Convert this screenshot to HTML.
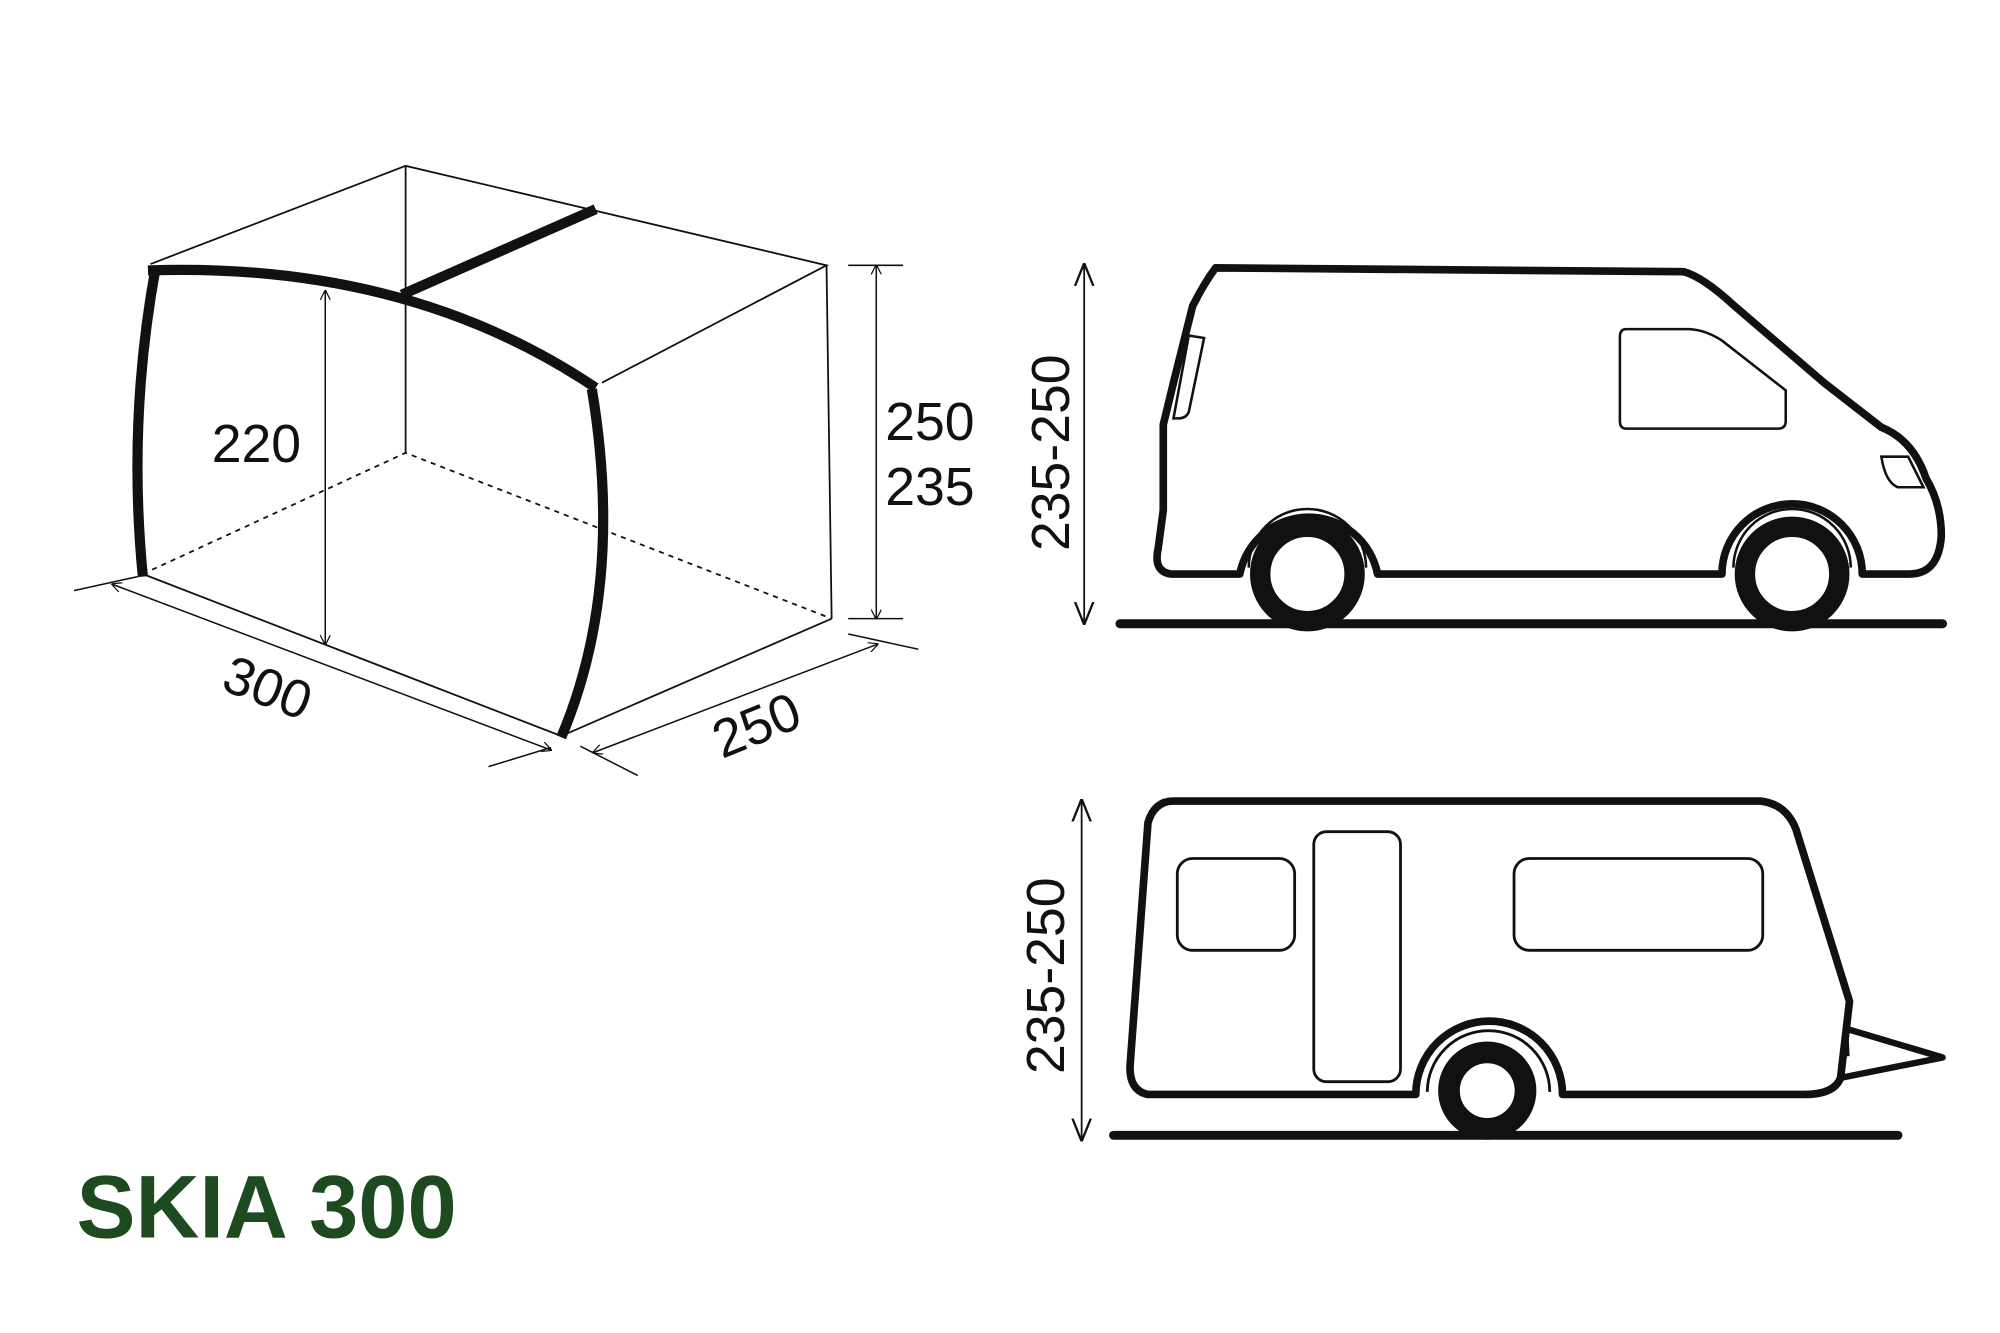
<!DOCTYPE html>
<html><head><meta charset="utf-8"><style>
html,body{margin:0;padding:0;background:#fff;}
svg{display:block;}
text{font-family:"Liberation Sans",sans-serif;fill:#111;}
</style></head><body>
<svg width="2000" height="1333" viewBox="0 0 1568 1045" preserveAspectRatio="none" xmlns="http://www.w3.org/2000/svg">
<defs>
<marker id="ar" viewBox="0 0 10 10" refX="9" refY="5" markerWidth="8" markerHeight="8" orient="auto-start-reverse" markerUnits="userSpaceOnUse">
<path d="M0,0 L10,5 L0,10" fill="none" stroke="#111" stroke-width="1.2"/></marker>
<marker id="ar2" viewBox="0 0 10 10" refX="9" refY="5" markerWidth="18" markerHeight="18" orient="auto-start-reverse" markerUnits="userSpaceOnUse">
<path d="M0,1 L10,5 L0,9" fill="none" stroke="#111" stroke-width="1"/></marker>
</defs>
<!-- tent -->
<g stroke="#111" fill="none" stroke-width="1.4">
<path d="M118,207 L318,130 L648,208 L472,300"/>
<path d="M318,130 L318,355"/>
<path d="M648,208 L652,485"/>
<path d="M112,450 L440,577 L652,485"/>
<path d="M112,450 L318,355 L652,485" stroke-dasharray="4,4"/>
</g>
<g stroke="#111" fill="none" stroke-width="8" stroke-linecap="butt">
<path d="M122,210 Q100,330 112,452"/>
<path d="M116,212 Q320,205 467,304"/>
<path d="M464,305 Q490,460 440,578"/>
<path d="M315,231 L467,164"/>
</g>
<g stroke="#111" fill="none" stroke-width="1.2">
<path d="M255,228 L255,505" marker-start="url(#ar)" marker-end="url(#ar)"/>
<path d="M88,458 L432,588" marker-start="url(#ar)" marker-end="url(#ar)"/>
<path d="M58,463 L108,452 M383,601 L432,586"/>
<path d="M465,590 L688,505" marker-start="url(#ar)" marker-end="url(#ar)"/>
<path d="M455,585 L500,608 M665,497 L720,509"/>
<path d="M687,208 L687,485" marker-start="url(#ar)" marker-end="url(#ar)"/>
<path d="M665,208 L708,208 M665,485 L708,485"/>
</g>
<text x="166" y="362" font-size="42">220</text>
<text x="0" y="0" font-size="42" transform="translate(172,540) rotate(21)">300</text>
<text x="0" y="0" font-size="42" transform="translate(566,595) rotate(-22)">250</text>
<text x="694" y="345" font-size="42">250</text>
<text x="694" y="396" font-size="42">235</text>
<!-- van -->
<g stroke="#111" fill="none" stroke-width="6" stroke-linejoin="round">
<path d="M953,210 L1320,213 Q1335,217 1360,240 L1430,300 L1475,335 Q1500,345 1510,375 Q1522,395 1522,420 Q1520,450 1497,450 L1460,450 A55,55 0 0 0 1350,450 L1080,450 A55,55 0 0 0 972,450 L918,450 Q904,448 908,430 L912,400 L912,333 L920,300 L935,240 Q944,222 953,210 Z"/>
</g>
<g stroke="#111" fill="none" stroke-width="2">
<path d="M932,263 L944,265 L932,323 Q930,328 924,328 L920,328 Z"/>
<path d="M1275,258 L1325,258 Q1338,259 1350,267 L1400,306 L1400,330 Q1400,336 1394,336 L1275,336 Q1270,336 1270,330 L1270,264 Q1270,258 1275,258 Z"/>
<path d="M1475,358 L1496,358 L1508,382 L1488,382 Q1478,378 1475,358 Z"/>
<path d="M979,445 A46,46 0 0 1 1071,445"/>
<path d="M1359,445 A46,46 0 0 1 1451,445"/>
</g>
<circle cx="1025" cy="450" r="37" fill="#fff" stroke="#111" stroke-width="16"/>
<circle cx="1405" cy="450" r="37" fill="#fff" stroke="#111" stroke-width="16"/>
<path d="M878,489 L1523,489" stroke="#111" stroke-width="7" stroke-linecap="round"/>
<path d="M850,208 L850,488" stroke="#111" stroke-width="1.4" marker-start="url(#ar2)" marker-end="url(#ar2)"/>
<text x="0" y="0" font-size="42" transform="translate(838,432) rotate(-90)">235-250</text>
<!-- caravan -->
<g stroke="#111" fill="none" stroke-width="6" stroke-linejoin="round">
<path d="M920,628 L1380,628 Q1400,630 1408,650 L1450,785 L1443,845 Q1438,858 1415,858 L1225,858 A57,57 0 0 0 1110,858 L900,858 Q885,855 886,835 L900,645 Q905,628 920,628 Z"/>
</g>
<g stroke="#111" fill="none" stroke-width="2.2">
<rect x="1030" y="652" width="68" height="196" rx="10"/>
<rect x="923" y="673" width="92" height="72" rx="12"/>
<rect x="1187" y="673" width="195" height="72" rx="12"/>
<path d="M1119,856 A48,48 0 0 1 1215,856"/>
<path d="M1448,808 L1449,828"/>
</g>
<path d="M1446,806 L1523,829 L1443,845" stroke="#111" stroke-width="5" fill="none" stroke-linejoin="round"/>
<circle cx="1166" cy="855" r="30" fill="#fff" stroke="#111" stroke-width="17"/>
<path d="M873,890 L1488,890" stroke="#111" stroke-width="7" stroke-linecap="round"/>
<path d="M848,628 L848,893" stroke="#111" stroke-width="1.4" marker-start="url(#ar2)" marker-end="url(#ar2)"/>
<text x="0" y="0" font-size="42" transform="translate(834,842) rotate(-90)">235-250</text>
<text x="60" y="970" font-size="70" font-weight="bold" style="fill:#1d4a1f" textLength="298" lengthAdjust="spacingAndGlyphs">SKIA 300</text>
</svg>
</body></html>
